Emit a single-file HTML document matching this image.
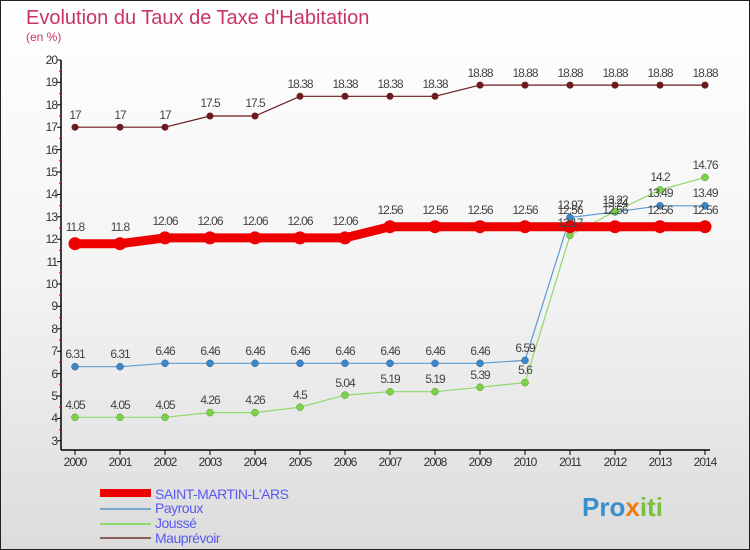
<!DOCTYPE html>
<html><head><meta charset="utf-8"><style>
body{margin:0}
#c{width:750px;height:550px;position:relative;overflow:hidden;background:linear-gradient(#fff 0%,#f4f4f4 50%,#dcdcdc 100%);font-family:"Liberation Sans",sans-serif}
svg{position:absolute;left:0;top:0}
</style></head><body><div id="c">
<svg width="750" height="550" font-family="Liberation Sans, sans-serif">
<rect x="0.5" y="0.5" width="749" height="549" fill="none" stroke="#222"/>
<text x="26" y="24" font-size="20" fill="#c8336a">Evolution du Taux de Taxe d'Habitation</text>
<text x="26" y="41" font-size="12" fill="#c8336a">(en %)</text>
<g stroke="#000" stroke-width="1.5">
<line x1="61" y1="60" x2="61" y2="450"/><line x1="61" y1="450" x2="710" y2="450"/>
</g>
<g stroke="#000" stroke-width="1">
<path d="M57 60h4M57 82.4h4M57 104.8h4M57 127.2h4M57 149.6h4M57 172h4M57 194.4h4M57 216.8h4M57 239.2h4M57 261.6h4M57 284h4M57 306.4h4M57 328.8h4M57 351.2h4M57 373.6h4M57 396h4M57 418.4h4M57 440.8h4"/>
<path d="M75 450v5M120 450v5M165 450v5M210 450v5M255 450v5M300 450v5M345 450v5M390 450v5M435 450v5M480 450v5M525 450v5M570 450v5M615 450v5M660 450v5M705 450v5"/>
</g>
<g stroke="#e00" stroke-width="1">
<path d="M59 71.2h2M59 93.6h2M59 116h2M59 138.4h2M59 160.8h2M59 183.2h2M59 205.6h2M59 228h2M59 250.4h2M59 272.8h2M59 295.2h2M59 317.6h2M59 340h2M59 362.4h2M59 384.8h2M59 407.2h2M59 429.6h2"/>
</g>
<g font-size="12" fill="#333" text-anchor="end" letter-spacing="-1">
<text x="57" y="64">20</text><text x="57" y="86">19</text><text x="57" y="109">18</text><text x="57" y="131">17</text><text x="57" y="154">16</text><text x="57" y="176">15</text><text x="57" y="198">14</text><text x="57" y="221">13</text><text x="57" y="243">12</text><text x="57" y="266">11</text><text x="57" y="288">10</text><text x="57" y="310">9</text><text x="57" y="333">8</text><text x="57" y="355">7</text><text x="57" y="378">6</text><text x="57" y="400">5</text><text x="57" y="422">4</text><text x="57" y="445">3</text>
</g>
<g font-size="12" fill="#333" text-anchor="middle" letter-spacing="-1">
<text x="75" y="466">2000</text><text x="120" y="466">2001</text><text x="165" y="466">2002</text><text x="210" y="466">2003</text><text x="255" y="466">2004</text><text x="300" y="466">2005</text><text x="345" y="466">2006</text><text x="390" y="466">2007</text><text x="435" y="466">2008</text><text x="480" y="466">2009</text><text x="525" y="466">2010</text><text x="570" y="466">2011</text><text x="615" y="466">2012</text><text x="660" y="466">2013</text><text x="705" y="466">2014</text>
</g>
<polyline fill="none" stroke="#6b1a1f" stroke-width="1.2" points="75,127.2 120,127.2 165,127.2 210,116 255,116 300,96.3 345,96.3 390,96.3 435,96.3 480,85.1 525,85.1 570,85.1 615,85.1 660,85.1 705,85.1"/>
<g fill="#6b1a1f"><circle cx="75" cy="127.2" r="3.5"/><circle cx="120" cy="127.2" r="3.5"/><circle cx="165" cy="127.2" r="3.5"/><circle cx="210" cy="116" r="3.5"/><circle cx="255" cy="116" r="3.5"/><circle cx="300" cy="96.3" r="3.5"/><circle cx="345" cy="96.3" r="3.5"/><circle cx="390" cy="96.3" r="3.5"/><circle cx="435" cy="96.3" r="3.5"/><circle cx="480" cy="85.1" r="3.5"/><circle cx="525" cy="85.1" r="3.5"/><circle cx="570" cy="85.1" r="3.5"/><circle cx="615" cy="85.1" r="3.5"/><circle cx="660" cy="85.1" r="3.5"/><circle cx="705" cy="85.1" r="3.5"/></g>
<polyline fill="none" stroke="#5a9bd0" stroke-width="1.2" points="75,366.7 120,366.7 165,363.3 210,363.3 255,363.3 300,363.3 345,363.3 390,363.3 435,363.3 480,363.3 525,360.4 570,217.5 615,211.9 660,205.8 705,205.8"/>
<g fill="#3a88c8" stroke="#2a6090" stroke-width="0.5"><circle cx="75" cy="366.7" r="3.5"/><circle cx="120" cy="366.7" r="3.5"/><circle cx="165" cy="363.3" r="3.5"/><circle cx="210" cy="363.3" r="3.5"/><circle cx="255" cy="363.3" r="3.5"/><circle cx="300" cy="363.3" r="3.5"/><circle cx="345" cy="363.3" r="3.5"/><circle cx="390" cy="363.3" r="3.5"/><circle cx="435" cy="363.3" r="3.5"/><circle cx="480" cy="363.3" r="3.5"/><circle cx="525" cy="360.4" r="3.5"/><circle cx="570" cy="217.5" r="3.5"/><circle cx="615" cy="211.9" r="3.5"/><circle cx="660" cy="205.8" r="3.5"/><circle cx="705" cy="205.8" r="3.5"/></g>
<polyline fill="none" stroke="#8fd86a" stroke-width="1.2" points="75,417.3 120,417.3 165,417.3 210,412.6 255,412.6 300,407.2 345,395.1 390,391.7 435,391.7 480,387.3 525,382.6 570,235.4 615,211.4 660,189.9 705,177.4"/>
<g fill="#7ed04a" stroke="#4a9a2a" stroke-width="0.5"><circle cx="75" cy="417.3" r="3.5"/><circle cx="120" cy="417.3" r="3.5"/><circle cx="165" cy="417.3" r="3.5"/><circle cx="210" cy="412.6" r="3.5"/><circle cx="255" cy="412.6" r="3.5"/><circle cx="300" cy="407.2" r="3.5"/><circle cx="345" cy="395.1" r="3.5"/><circle cx="390" cy="391.7" r="3.5"/><circle cx="435" cy="391.7" r="3.5"/><circle cx="480" cy="387.3" r="3.5"/><circle cx="525" cy="382.6" r="3.5"/><circle cx="570" cy="235.4" r="3.5"/><circle cx="615" cy="211.4" r="3.5"/><circle cx="660" cy="189.9" r="3.5"/><circle cx="705" cy="177.4" r="3.5"/></g>
<polyline fill="none" stroke="#e00" stroke-width="9" points="75,243.7 120,243.7 165,237.9 210,237.9 255,237.9 300,237.9 345,237.9 390,226.7 435,226.7 480,226.7 525,226.7 570,226.7 615,226.7 660,226.7 705,226.7"/>
<g fill="#e00"><circle cx="75" cy="243.7" r="6.5"/><circle cx="120" cy="243.7" r="6.5"/><circle cx="165" cy="237.9" r="6.5"/><circle cx="210" cy="237.9" r="6.5"/><circle cx="255" cy="237.9" r="6.5"/><circle cx="300" cy="237.9" r="6.5"/><circle cx="345" cy="237.9" r="6.5"/><circle cx="390" cy="226.7" r="6.5"/><circle cx="435" cy="226.7" r="6.5"/><circle cx="480" cy="226.7" r="6.5"/><circle cx="525" cy="226.7" r="6.5"/><circle cx="570" cy="226.7" r="6.5"/><circle cx="615" cy="226.7" r="6.5"/><circle cx="660" cy="226.7" r="6.5"/><circle cx="705" cy="226.7" r="6.5"/></g>
<g font-size="12" fill="#444" text-anchor="middle" letter-spacing="-1">
<text x="75" y="119">17</text><text x="120" y="119">17</text><text x="165" y="119">17</text><text x="210" y="107">17.5</text><text x="255" y="107">17.5</text><text x="300" y="88">18.38</text><text x="345" y="88">18.38</text><text x="390" y="88">18.38</text><text x="435" y="88">18.38</text><text x="480" y="77">18.88</text><text x="525" y="77">18.88</text><text x="570" y="77">18.88</text><text x="615" y="77">18.88</text><text x="660" y="77">18.88</text><text x="705" y="77">18.88</text>
<text x="75" y="231">11.8</text><text x="120" y="231">11.8</text><text x="165" y="225">12.06</text><text x="210" y="225">12.06</text><text x="255" y="225">12.06</text><text x="300" y="225">12.06</text><text x="345" y="225">12.06</text><text x="390" y="214">12.56</text><text x="435" y="214">12.56</text><text x="480" y="214">12.56</text><text x="525" y="214">12.56</text><text x="570" y="214">12.56</text><text x="615" y="214">12.56</text><text x="660" y="214">12.56</text><text x="705" y="214">12.56</text>
<text x="75" y="358">6.31</text><text x="120" y="358">6.31</text><text x="165" y="355">6.46</text><text x="210" y="355">6.46</text><text x="255" y="355">6.46</text><text x="300" y="355">6.46</text><text x="345" y="355">6.46</text><text x="390" y="355">6.46</text><text x="435" y="355">6.46</text><text x="480" y="355">6.46</text><text x="525" y="352">6.59</text><text x="570" y="209">12.97</text><text x="615" y="204">13.22</text><text x="660" y="197">13.49</text><text x="705" y="197">13.49</text>
<text x="75" y="409">4.05</text><text x="120" y="409">4.05</text><text x="165" y="409">4.05</text><text x="210" y="404">4.26</text><text x="255" y="404">4.26</text><text x="300" y="399">4.5</text><text x="345" y="387">5.04</text><text x="390" y="383">5.19</text><text x="435" y="383">5.19</text><text x="480" y="379">5.39</text><text x="525" y="374">5.6</text><text x="570" y="227">12.17</text><text x="615" y="207">13.24</text><text x="660" y="181">14.2</text><text x="705" y="169">14.76</text>
</g>
<rect x="100" y="489" width="51" height="8" fill="#e00"/>
<rect x="100" y="508" width="51" height="2" fill="#7aa8cc"/>
<rect x="100" y="523" width="51" height="2" fill="#8fd86a"/>
<rect x="100" y="537" width="51" height="2" fill="#8a6060"/>
<g font-size="14" fill="#5a5af0" letter-spacing="-0.5">
<text x="155" y="499">SAINT-MARTIN-L'ARS</text><text x="155" y="513">Payroux</text><text x="155" y="528">Joussé</text><text x="155" y="543">Mauprévoir</text>
</g>
<text x="582" y="516" font-size="26" font-weight="bold"><tspan fill="#3a8fd0">Pro</tspan><tspan fill="#f07a10">x</tspan><tspan fill="#7ac040">iti</tspan></text>
</svg></div></body></html>
